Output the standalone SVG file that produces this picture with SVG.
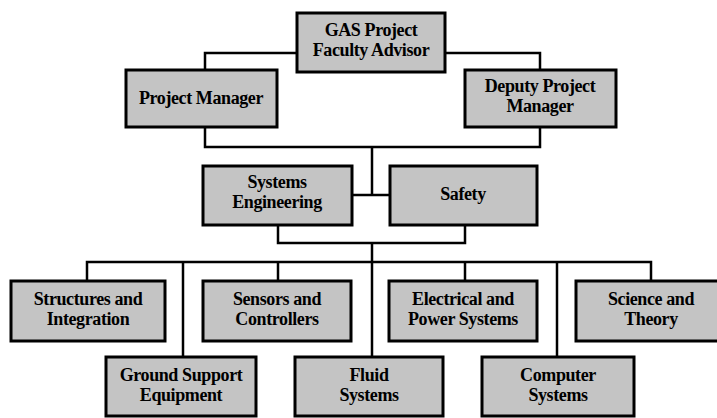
<svg xmlns="http://www.w3.org/2000/svg" width="717" height="418" viewBox="0 0 717 418">
<style>
.box{fill:#c4c4c4;stroke:#000;stroke-width:3}
.lbl{font-family:"Times New Roman","Liberation Serif",Times,"DejaVu Serif",serif;font-weight:bold;font-size:18px;fill:#000;text-anchor:middle;letter-spacing:-0.4px}
.con{fill:none;stroke:#000;stroke-width:2.5}
</style>
<rect width="717" height="418" fill="#fff"/>
<g id="connectors">
<path class="con" d="M297,53 H205 V70"/>
<path class="con" d="M445,53 H540 V70"/>
<path class="con" d="M205,127 V147 H540 V127"/>
<path class="con" d="M372,147 V195"/>
<path class="con" d="M352,195 H390"/>
<path class="con" d="M278,225 V243 H465 V225"/>
<path class="con" d="M372,243 V357"/>
<path class="con" d="M87,281 V262 H651 V281"/>
<path class="con" d="M183,262 V357"/>
<path class="con" d="M278,262 V281"/>
<path class="con" d="M465,262 V281"/>
<path class="con" d="M557,262 V357"/>
</g>
<g id="gas">
<rect class="box" x="297" y="13" width="148" height="59"/>
<text class="lbl" x="371" y="36">GAS Project</text>
<text class="lbl" x="371" y="56">Faculty Advisor</text>
</g>
<g id="pm">
<rect class="box" x="126" y="70" width="151" height="57"/>
<text class="lbl" x="201" y="104">Project Manager</text>
</g>
<g id="dpm">
<rect class="box" x="465" y="70" width="151" height="57"/>
<text class="lbl" x="540" y="92">Deputy Project</text>
<text class="lbl" x="540" y="112">Manager</text>
</g>
<g id="se">
<rect class="box" x="203" y="166" width="149" height="59"/>
<text class="lbl" x="277" y="188">Systems</text>
<text class="lbl" x="277" y="208">Engineering</text>
</g>
<g id="safety">
<rect class="box" x="390" y="166" width="147" height="59"/>
<text class="lbl" x="463" y="200">Safety</text>
</g>
<g id="structures">
<rect class="box" x="11" y="281" width="154" height="60"/>
<text class="lbl" x="88" y="305">Structures and</text>
<text class="lbl" x="88" y="325">Integration</text>
</g>
<g id="sensors">
<rect class="box" x="203" y="281" width="148" height="60"/>
<text class="lbl" x="277" y="305">Sensors and</text>
<text class="lbl" x="277" y="325">Controllers</text>
</g>
<g id="electrical">
<rect class="box" x="389" y="281" width="148" height="60"/>
<text class="lbl" x="463" y="305">Electrical and</text>
<text class="lbl" x="463" y="325">Power Systems</text>
</g>
<g id="science">
<rect class="box" x="576" y="281" width="160" height="60"/>
<text class="lbl" x="651" y="305">Science and</text>
<text class="lbl" x="651" y="325">Theory</text>
</g>
<g id="ground">
<rect class="box" x="106" y="357" width="150" height="59"/>
<text class="lbl" x="181" y="381">Ground Support</text>
<text class="lbl" x="181" y="401">Equipment</text>
</g>
<g id="fluid">
<rect class="box" x="295" y="357" width="148" height="59"/>
<text class="lbl" x="369" y="381">Fluid</text>
<text class="lbl" x="369" y="401">Systems</text>
</g>
<g id="computer">
<rect class="box" x="482" y="357" width="152" height="59"/>
<text class="lbl" x="558" y="381">Computer</text>
<text class="lbl" x="558" y="401">Systems</text>
</g>
</svg>
